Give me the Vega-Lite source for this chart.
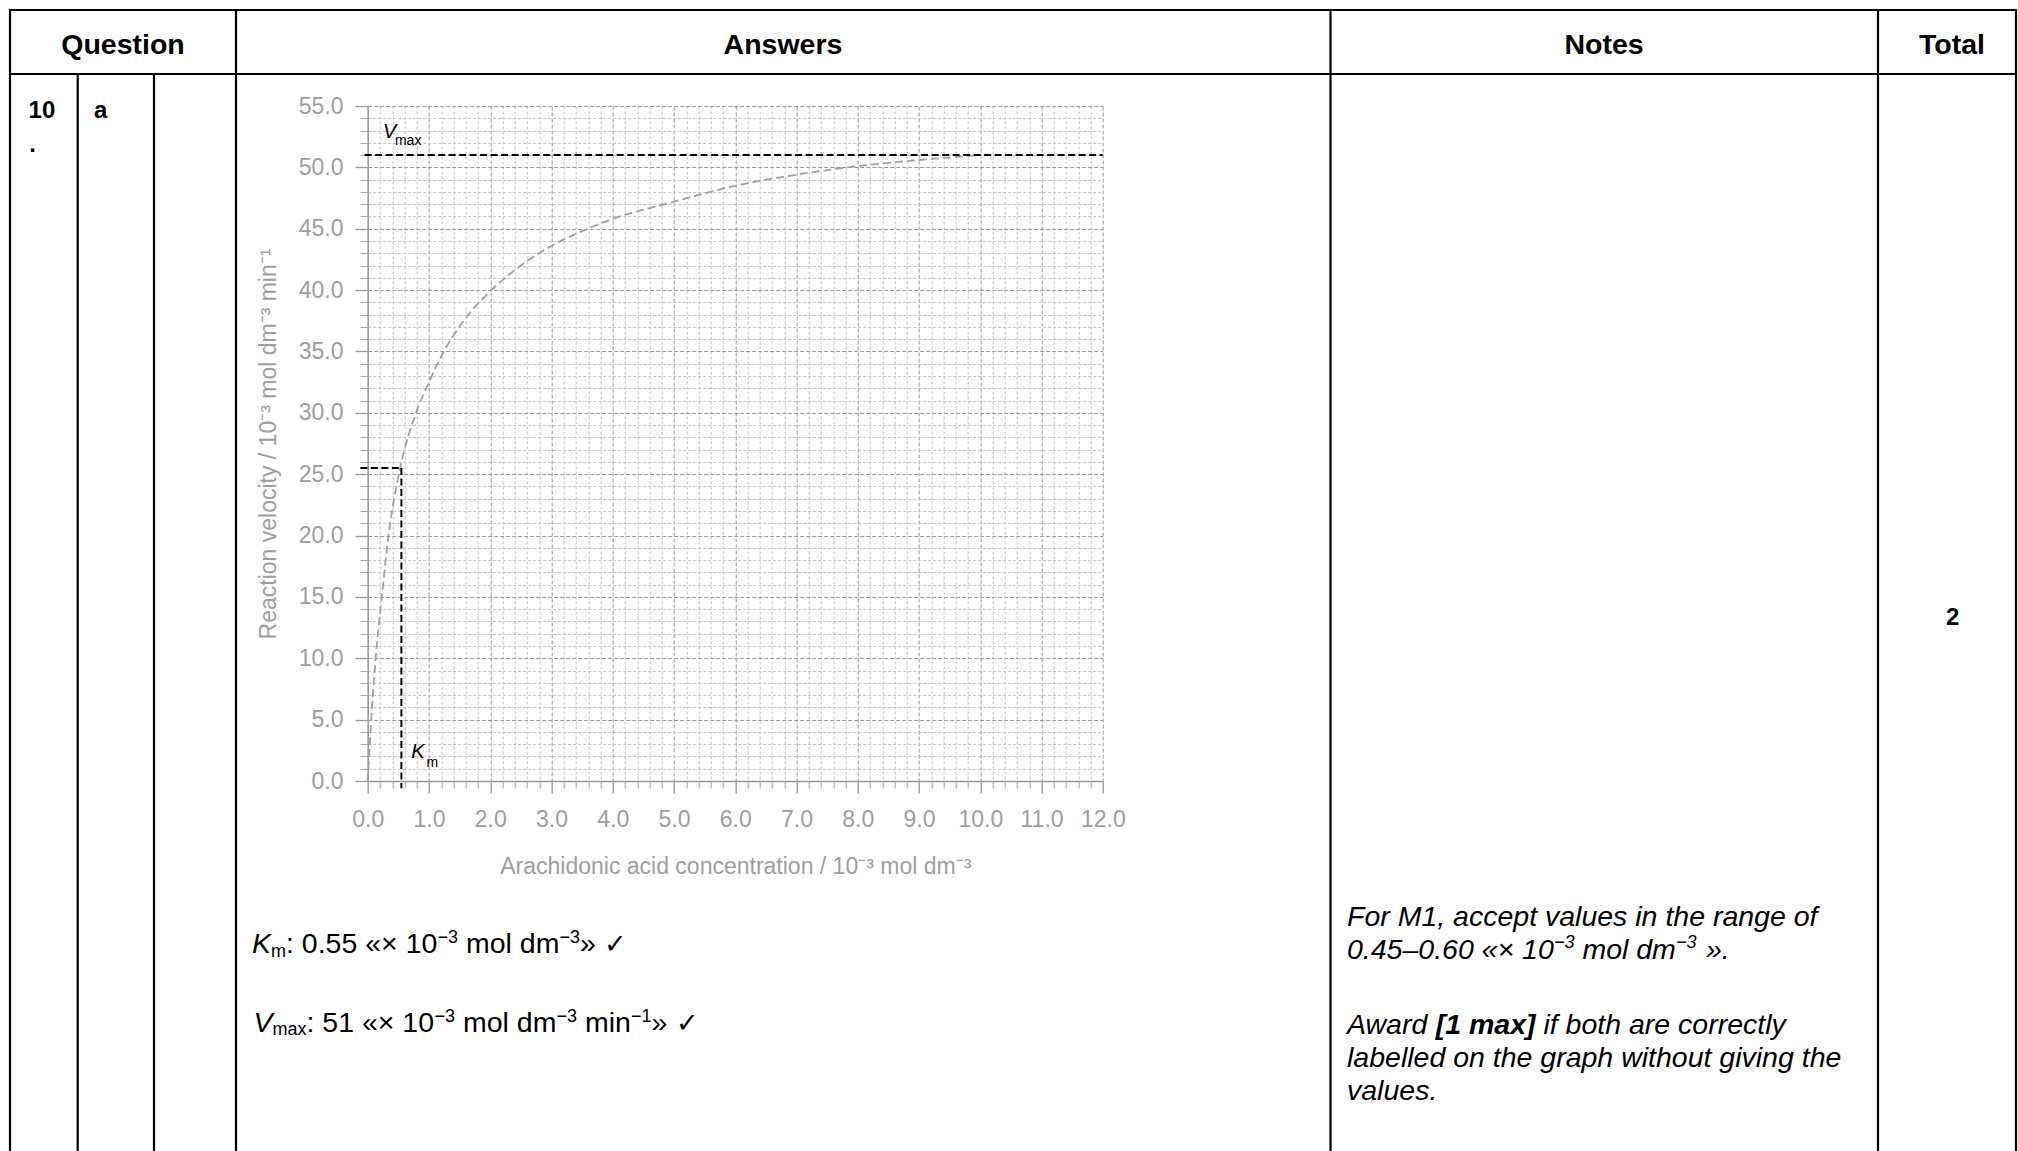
{
  "$schema": "https://vega.github.io/schema/vega-lite/v6.json",
  "width": 735.1,
  "height": 675,
  "autosize": {"type": "none"},
  "padding": {"left": 367.7, "top": 106, "right": 915.2, "bottom": 370},
  "background": "white",
  "config": {"view": {"stroke": null}, "font": "Liberation Sans"},
  "layer": [
    {
      "layer": [
        {
          "data": {"values": [
            {"conc": 0.0, "rate": 0.0}, {"conc": 0.035, "rate": 3.0}, {"conc": 0.07, "rate": 6.0},
            {"conc": 0.13, "rate": 10.0}, {"conc": 0.23, "rate": 15.0}, {"conc": 0.34, "rate": 20.0},
            {"conc": 0.53, "rate": 25.5}, {"conc": 0.79, "rate": 30.0}, {"conc": 1.0, "rate": 32.5},
            {"conc": 1.2, "rate": 34.6}, {"conc": 1.55, "rate": 37.4}, {"conc": 2.0, "rate": 39.9},
            {"conc": 2.5, "rate": 42.0}, {"conc": 3.0, "rate": 43.6}, {"conc": 3.5, "rate": 44.8},
            {"conc": 4.0, "rate": 45.8}, {"conc": 5.0, "rate": 47.2}, {"conc": 6.0, "rate": 48.5},
            {"conc": 7.0, "rate": 49.4}, {"conc": 8.0, "rate": 50.1}, {"conc": 9.0, "rate": 50.6},
            {"conc": 10.0, "rate": 51.0}
          ]},
          "mark": {"type": "line", "color": "#a0a0a0", "strokeWidth": 1.8, "strokeDash": [8, 4], "interpolate": "monotone"},
          "encoding": {
            "x": {"field": "conc", "type": "quantitative",
              "scale": {"domain": [0, 12], "nice": false, "zero": false},
              "axis": {"orient": "bottom", "values": [0.2,0.4,0.6,0.8,1.2,1.4,1.6,1.8,2.2,2.4,2.6,2.8,3.2,3.4,3.6,3.8,4.2,4.4,4.6,4.8,5.2,5.4,5.6,5.8,6.2,6.4,6.6,6.8,7.2,7.4,7.6,7.8,8.2,8.4,8.6,8.8,9.2,9.4,9.6,9.8,10.2,10.4,10.6,10.8,11.2,11.4,11.6,11.8],
                "labels": false, "tickSize": 7, "tickColor": "#a6a6a6", "tickWidth": 1, "domain": false,
                "grid": true, "gridColor": "#c4c4c4", "gridDash": [3, 2], "gridWidth": 1, "title": null}},
            "y": {"field": "rate", "type": "quantitative",
              "scale": {"domain": [0, 55], "nice": false, "zero": false},
              "axis": {"orient": "left", "values": [1,2,3,4,6,7,8,9,11,12,13,14,16,17,18,19,21,22,23,24,26,27,28,29,31,32,33,34,36,37,38,39,41,42,43,44,46,47,48,49,51,52,53,54],
                "labels": false, "tickSize": 7.7, "tickColor": "#a6a6a6", "tickWidth": 1, "domain": false,
                "grid": true, "gridColor": "#c4c4c4", "gridDash": [3, 2], "gridWidth": 1, "title": null}}
          }
        },
        {
          "data": {"values": [
            {"guide": "Vmax", "conc": -0.05, "conc2": 12, "rate": 51, "rate2": 51},
            {"guide": "Km horizontal", "conc": -0.12, "conc2": 0.55, "rate": 25.5, "rate2": 25.5},
            {"guide": "Km vertical", "conc": 0.55, "conc2": 0.55, "rate": 25.5, "rate2": -0.6}
          ]},
          "mark": {"type": "rule", "color": "black", "strokeWidth": 2, "strokeDash": [7, 3.5]},
          "encoding": {
            "x": {"field": "conc", "type": "quantitative",
              "axis": {"orient": "bottom", "values": [0,1,2,3,4,5,6,7,8,9,10,11,12], "format": ".1f",
                "labelFlush": false, "labelOverlap": false, "tickSize": 12, "tickColor": "#999999", "tickWidth": 1.3,
                "domain": true, "domainColor": "#999999", "domainWidth": 1.5,
                "grid": true, "gridColor": "#9a9a9a", "gridDash": [4, 2], "gridWidth": 1,
                "labelFont": "Liberation Sans", "labelFontSize": 23, "labelColor": "#9e9e9e", "labelPadding": 15,
                "title": "Arachidonic acid concentration / 10⁻³ mol dm⁻³",
                "titleFont": "Liberation Sans", "titleFontSize": 23, "titleFontWeight": "normal", "titleColor": "#9e9e9e", "titlePadding": 24}},
            "x2": {"field": "conc2"},
            "y": {"field": "rate", "type": "quantitative",
              "axis": {"orient": "left", "values": [0,5,10,15,20,25,30,35,40,45,50,55], "format": ".1f",
                "labelFlush": false, "labelOverlap": false, "tickSize": 12.7, "tickColor": "#999999", "tickWidth": 1.3,
                "domain": true, "domainColor": "#999999", "domainWidth": 1.5,
                "grid": true, "gridColor": "#9a9a9a", "gridDash": [4, 2], "gridWidth": 1,
                "labelFont": "Liberation Sans", "labelFontSize": 23, "labelColor": "#9e9e9e", "labelPadding": 12,
                "title": "Reaction velocity / 10⁻³ mol dm⁻³ min⁻¹",
                "titleFont": "Liberation Sans", "titleFontSize": 23, "titleFontWeight": "normal", "titleColor": "#9e9e9e", "titlePadding": 18}},
            "y2": {"field": "rate2"}
          }
        },
        {
          "data": {"values": [
            {"t": "V", "conc": 0.25, "rate": 52.38},
            {"t": "K", "conc": 0.71, "rate": 1.85}
          ]},
          "mark": {"type": "text", "font": "Liberation Sans", "fontStyle": "italic", "fontSize": 20, "align": "left", "baseline": "alphabetic", "color": "black"},
          "encoding": {
            "x": {"field": "conc", "type": "quantitative", "axis": null},
            "y": {"field": "rate", "type": "quantitative", "axis": null},
            "text": {"field": "t"}
          }
        },
        {
          "data": {"values": [
            {"t": "max", "conc": 0.445, "rate": 51.83},
            {"t": "m", "conc": 0.96, "rate": 1.17}
          ]},
          "mark": {"type": "text", "font": "Liberation Sans", "fontSize": 14, "align": "left", "baseline": "alphabetic", "color": "black"},
          "encoding": {
            "x": {"field": "conc", "type": "quantitative", "axis": null},
            "y": {"field": "rate", "type": "quantitative", "axis": null},
            "text": {"field": "t"}
          }
        }
      ],
      "resolve": {"axis": {"x": "independent", "y": "independent"}}
    },
    {
      "encoding": {
        "x": {"field": "px", "type": "quantitative", "axis": null, "scale": {"domain": [367.7, 1102.8], "nice": false, "zero": false}},
        "y": {"field": "py", "type": "quantitative", "axis": null, "scale": {"domain": [106, 781], "reverse": true, "nice": false, "zero": false}}
      },
      "layer": [
        {
          "data": {"values": [
            {"line": "top border", "px": 9, "px2": 2017, "py": 10, "py2": 10},
            {"line": "header bottom", "px": 9, "px2": 2017, "py": 74, "py2": 74},
            {"line": "left border", "px": 10, "px2": 10, "py": 9, "py2": 1151},
            {"line": "question number", "px": 77.7, "px2": 77.7, "py": 74, "py2": 1151},
            {"line": "question part", "px": 154, "px2": 154, "py": 74, "py2": 1151},
            {"line": "question | answers", "px": 236, "px2": 236, "py": 9, "py2": 1151},
            {"line": "answers | notes", "px": 1330.5, "px2": 1330.5, "py": 9, "py2": 1151},
            {"line": "notes | total", "px": 1878, "px2": 1878, "py": 9, "py2": 1151},
            {"line": "right border", "px": 2016, "px2": 2016, "py": 9, "py2": 1151}
          ]},
          "mark": {"type": "rule", "color": "black", "strokeWidth": 2.2},
          "encoding": {"x2": {"field": "px2"}, "y2": {"field": "py2"}}
        },
        {
          "data": {"values": [
            {"t": "Question", "px": 123, "py": 53.5},
            {"t": "Answers", "px": 783, "py": 53.5},
            {"t": "Notes", "px": 1604, "py": 53.5},
            {"t": "Total", "px": 1952, "py": 53.5}
          ]},
          "mark": {"type": "text", "font": "Liberation Sans", "fontWeight": "bold", "fontSize": 28.5, "align": "center", "baseline": "alphabetic", "color": "black"},
          "encoding": {"text": {"field": "t"}}
        },
        {
          "data": {"values": [
            {"t": "10", "px": 28.6, "py": 118.3},
            {"t": ".", "px": 29.3, "py": 151.7},
            {"t": "a", "px": 94, "py": 118.3},
            {"t": "2", "px": 1946, "py": 625}
          ]},
          "mark": {"type": "text", "font": "Liberation Sans", "fontWeight": "bold", "fontSize": 24, "align": "left", "baseline": "alphabetic", "color": "black"},
          "encoding": {"text": {"field": "t"}}
        },
        {
          "data": {"values": [
            {"t": ": 0.55 «× 10", "px": 286, "py": 952.7},
            {"t": "mol dm", "px": 466, "py": 952.7},
            {"t": "»", "px": 580, "py": 952.7},
            {"t": ": 51 «× 10", "px": 306.5, "py": 1031.7},
            {"t": "mol dm", "px": 463, "py": 1031.7},
            {"t": "min", "px": 585, "py": 1031.7},
            {"t": "»", "px": 651.5, "py": 1031.7}
          ]},
          "mark": {"type": "text", "font": "Liberation Sans", "fontSize": 28.5, "align": "left", "baseline": "alphabetic", "color": "black"},
          "encoding": {"text": {"field": "t"}}
        },
        {
          "data": {"values": [
            {"t": "✓", "px": 604, "py": 952.7},
            {"t": "✓", "px": 676, "py": 1031.7}
          ]},
          "mark": {"type": "text", "font": "DejaVu Sans", "fontWeight": "bold", "fontSize": 27, "align": "left", "baseline": "alphabetic", "color": "black"},
          "encoding": {"text": {"field": "t"}}
        },
        {
          "data": {"values": [
            {"t": "−3", "px": 437.5, "py": 943},
            {"t": "−3", "px": 559.4, "py": 943},
            {"t": "m", "px": 271, "py": 957},
            {"t": "max", "px": 272.5, "py": 1035},
            {"t": "−3", "px": 434.5, "py": 1022},
            {"t": "−3", "px": 556.4, "py": 1022},
            {"t": "−1", "px": 631, "py": 1022}
          ]},
          "mark": {"type": "text", "font": "Liberation Sans", "fontSize": 18, "align": "left", "baseline": "alphabetic", "color": "black"},
          "encoding": {"text": {"field": "t"}}
        },
        {
          "data": {"values": [
            {"t": "K", "px": 252, "py": 952.7},
            {"t": "V", "px": 253.5, "py": 1031.7},
            {"t": "For M1, accept values in the range of", "px": 1347, "py": 926},
            {"t": "0.45–0.60 «× 10", "px": 1347, "py": 959},
            {"t": "mol dm", "px": 1582.4, "py": 959},
            {"t": "».", "px": 1706, "py": 959},
            {"t": "Award", "px": 1347, "py": 1034},
            {"t": "if both are correctly", "px": 1543.4, "py": 1034},
            {"t": "labelled on the graph without giving the", "px": 1347, "py": 1067},
            {"t": "values.", "px": 1347, "py": 1100}
          ]},
          "mark": {"type": "text", "font": "Liberation Sans", "fontStyle": "italic", "fontSize": 28.5, "align": "left", "baseline": "alphabetic", "color": "black"},
          "encoding": {"text": {"field": "t"}}
        },
        {
          "data": {"values": [
            {"t": "[1 max]", "px": 1435.7, "py": 1034}
          ]},
          "mark": {"type": "text", "font": "Liberation Sans", "fontStyle": "italic", "fontWeight": "bold", "fontSize": 28.5, "align": "left", "baseline": "alphabetic", "color": "black"},
          "encoding": {"text": {"field": "t"}}
        },
        {
          "data": {"values": [
            {"t": "−3", "px": 1554, "py": 948},
            {"t": "−3", "px": 1676, "py": 948}
          ]},
          "mark": {"type": "text", "font": "Liberation Sans", "fontStyle": "italic", "fontSize": 18, "align": "left", "baseline": "alphabetic", "color": "black"},
          "encoding": {"text": {"field": "t"}}
        }
      ]
    }
  ],
  "resolve": {"scale": {"x": "independent", "y": "independent"}}
}
